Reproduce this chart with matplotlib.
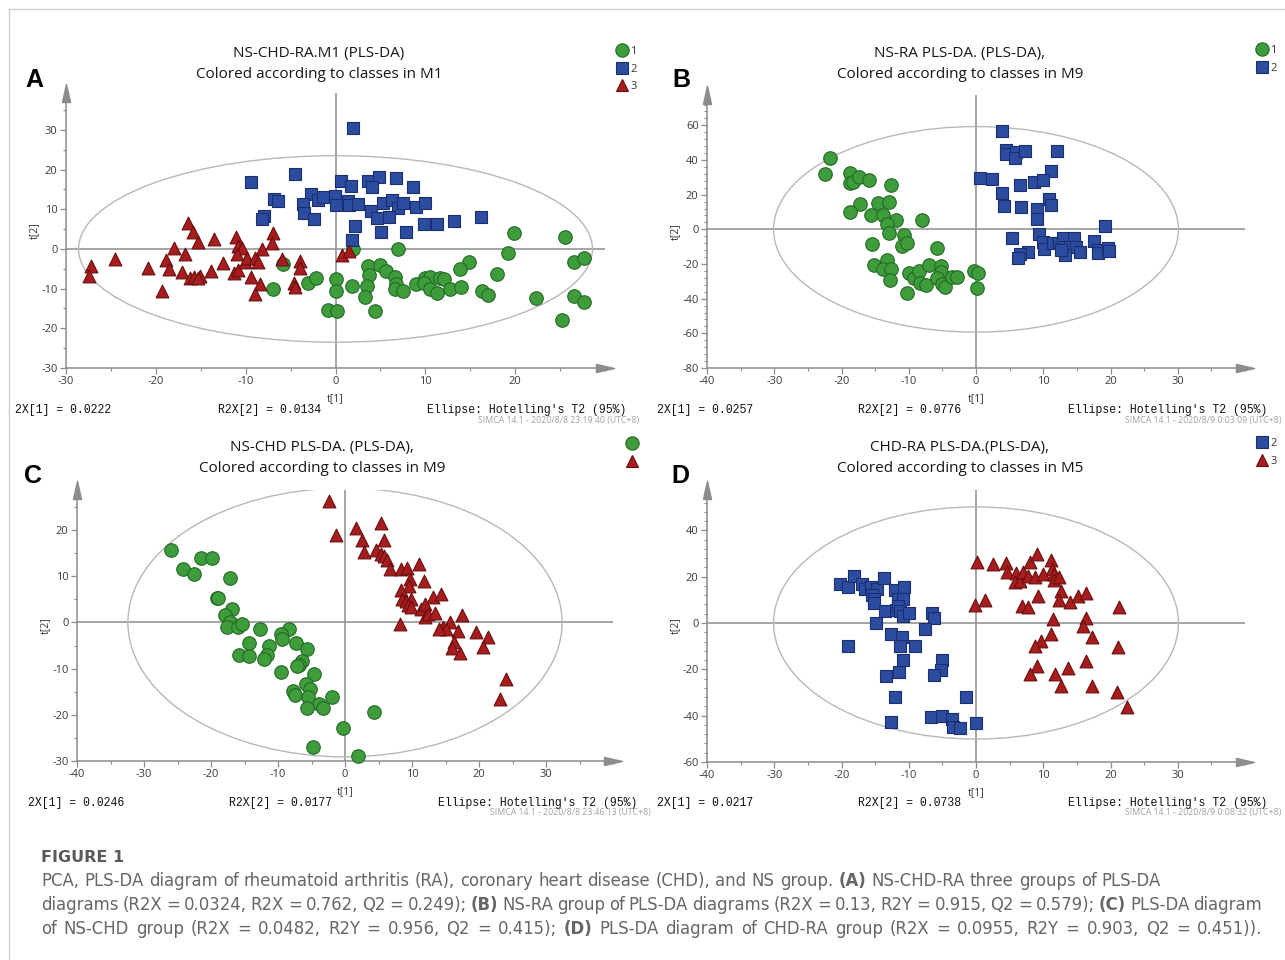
import numpy as np
import matplotlib
matplotlib.use("Agg")
import matplotlib.pyplot as plt
from matplotlib.patches import Ellipse
from matplotlib.lines import Line2D
from matplotlib.ticker import MultipleLocator

# ---- panel A : NS-CHD-RA, classes 1/2/3 ----
a1_x = [19.9, 25.5, 19.2, 26.5, 27.7, 14.9, 13.9, 18.0, 7.0, 1.9, -5.8, -7.0, -3.05, -2.2, 0.1, 0.0,
        1.8, 3.6, 3.7, 3.5, 3.3, 5.0, 5.6, 6.6, 6.7, 6.6, 7.5, -0.8, 0.2, 4.4, 9.0, 10.0, 10.5, 9.8,
        10.5, 11.3, 11.6, 12.1, 12.7, 14.0, 16.3, 17.0, 22.3, 26.5, 27.7, 25.2]
a1_y = [3.9, 2.9, -1.1, -3.2, -2.3, -3.2, -5.1, -6.2, 0.0, 0.0, -3.9, -10.2, -8.6, -7.4, -7.6, -10.6,
        -9.3, -4.4, -6.5, -9.3, -12.2, -4.0, -5.5, -7.0, -8.8, -10.2, -10.6, -15.4, -15.6, -15.6, -8.8,
        -7.4, -7.0, -8.5, -10.2, -11.2, -7.4, -7.6, -10.2, -9.5, -10.6, -11.6, -12.4, -11.8, -13.3, -18.0]
a2_x = [1.9, -9.4, -4.5, 0.6, 1.7, 3.6, 4.8, 4.1, 6.7, 8.6, -6.9, -6.4, -2.7, -2.0, -1.4, -0.1, -3.6,
        -3.5, -2.4, 0.0, 1.4, 1.45, 2.5, 3.95, 5.3, 6.3, 7.0, 7.5, 9.0, 10.0, 4.6, 5.9, -8.0, -8.2, 9.9,
        11.3, 13.2, 16.2, 2.2, 5.1, 7.8, 1.8]
a2_y = [30.5, 16.8, 19.0, 17.2, 15.9, 17.2, 18.2, 15.7, 18.0, 15.5, 12.5, 12.1, 13.8, 12.3, 13.0, 13.3,
        11.3, 9.1, 7.6, 11.1, 12.1, 11.1, 11.3, 9.6, 11.5, 12.3, 10.2, 11.5, 10.5, 11.7, 7.9, 8.1, 8.4,
        7.6, 6.3, 6.3, 7.0, 8.0, 5.7, 4.2, 4.2, 2.3]
a3_x = [-27.2, -27.4, -24.5, -20.9, -19.3, -18.9, -18.5, -18.0, -16.8, -17.1, -16.4, -15.9, -15.3,
        -16.2, -15.7, -15.1, -15.3, -13.9, -13.5, -12.5, -11.1, -10.9, -10.45, -11.0, -11.3, -10.8,
        -10.1, -9.8, -9.45, -9.0, -8.6, -8.4, -9.0, -8.2, -7.0, -7.05, -6.0, -4.0, -4.0, -4.6, -4.5,
        0.7, 1.45]
a3_y = [-4.4, -6.8, -2.6, -4.7, -10.6, -2.8, -5.1, 0.2, -1.3, -5.9, 6.5, 4.2, 1.8, -7.4, -7.0, -6.8,
        -7.4, -5.5, 2.5, -3.6, 3.1, 0.8, 0.2, -1.3, -6.1, -5.3, -3.2, -2.2, -7.0, -2.3, -3.4, -8.8,
        -11.4, 0.0, 3.9, 1.4, -2.6, -3.0, -4.9, -8.6, -9.7, -1.5, -0.5]

# ---- panel B : NS-RA, classes 1/2 ----
b1_x = [-21.7, -22.4, -18.7, -18.8, -18.3, -17.4, -15.9, -12.7, -17.2, -14.5, -12.9, -18.7, -15.6,
        -13.8, -11.9, -13.2, -8.0, -12.9, -10.7, -11.0, -10.2, -15.4, -5.8, -15.1, -13.3, -13.9, -12.6,
        -12.8, -10.0, -9.2, -8.5, -8.4, -7.4, -10.2, -7.0, -5.2, -5.2, -5.8, -5.1, -4.6, -3.5, -2.8,
        -0.3, 0.3, 0.2]
b1_y = [41.3, 32.1, 32.7, 26.5, 27.1, 30.4, 28.3, 25.6, 14.4, 15.0, 15.6, 9.8, 8.3, 8.3, 5.4, 2.9, 5.4,
        -2.3, -3.3, -9.6, -8.1, -8.3, -11.0, -20.6, -17.7, -22.9, -23.1, -29.2, -25.4, -28.3, -23.8,
        -31.2, -32.1, -36.9, -20.6, -21.2, -24.4, -28.3, -31.5, -33.1, -27.3, -27.3, -24.0, -25.4, -33.7]
b2_x = [3.9, 4.5, 4.5, 5.9, 5.8, 7.3, 12.1, 11.2, 0.6, 2.4, 8.6, 10.0, 6.5, 3.9, 4.1, 6.7, 9.1, 10.8,
        11.1, 9.1, 19.2, 5.4, 9.4, 10.0, 10.1, 11.5, 12.4, 13.0, 13.2, 14.5, 14.0, 14.9, 15.5, 13.2,
        12.7, 17.6, 18.1, 18.1, 19.6, 19.8, 7.7, 6.5, 6.3]
b2_y = [56.7, 45.8, 43.3, 44.8, 41.0, 45.4, 45.4, 33.8, 29.8, 29.0, 27.5, 28.5, 25.4, 20.8, 13.5, 13.1,
        11.7, 17.3, 14.0, 6.0, 1.9, -5.2, -2.7, -7.1, -11.5, -8.1, -8.1, -5.2, -10.0, -5.2, -10.4, -10.0,
        -12.9, -14.8, -11.9, -6.5, -11.9, -13.5, -11.0, -12.3, -12.9, -14.4, -16.7]

# ---- panel C : NS-CHD ----
c1_x = [-26.0, -21.5, -19.8, -24.2, -22.5, -17.1, -19.1, -18.96, -16.8, -17.9, -17.1, -17.6, -15.9,
        -15.3, -12.7, -8.4, -9.5, -9.4, -14.4, -7.3, -11.3, -5.65, -15.8, -14.4, -11.7, -12.1, -6.4,
        -6.8, -7.2, -9.5, -4.6, -5.8, -5.2, -7.7, -7.5, -5.5, -3.9, -3.3, -5.65, -2.0, 4.3, -0.25,
        -4.8, 1.9]
c1_y = [15.7, 14.0, 14.0, 11.5, 10.4, 9.7, 5.4, 5.2, 3.0, 1.7, 0.1, -0.9, -0.9, -0.4, -1.3, -1.3,
        -2.4, -3.5, -4.4, -4.4, -5.1, -5.8, -7.1, -7.2, -7.1, -7.8, -8.4, -9.1, -9.4, -10.8, -11.1,
        -13.4, -14.3, -14.9, -15.6, -16.1, -17.7, -18.6, -18.6, -16.2, -19.3, -22.9, -27.0, -28.9]
c3_x = [-2.4, -1.4, 1.6, 5.3, 2.6, 5.8, 2.9, 4.7, 5.3, 5.8, 6.2, 6.7, 8.3, 9.3, 11.0, 9.7, 11.8, 9.5,
        8.3, 8.5, 9.1, 9.9, 9.4, 9.8, 13.2, 14.3, 11.4, 12.0, 11.9, 12.4, 13.5, 8.2, 17.5, 15.6, 14.6,
        15.1, 14.1, 16.9, 19.6, 21.3, 16.2, 16.0, 17.1, 20.6, 24.0, 23.1]
c3_y = [26.3, 19.0, 20.5, 21.6, 17.8, 17.8, 15.3, 15.8, 14.9, 14.4, 13.5, 11.5, 11.5, 11.8, 12.6, 9.5,
        9.0, 7.9, 7.1, 5.1, 4.7, 5.1, 3.8, 3.4, 5.6, 6.1, 3.0, 3.9, 1.1, 1.9, 2.1, -0.4, 1.7, 0.1, -0.9,
        -1.4, -1.3, -1.9, -2.0, -3.2, -4.2, -5.5, -6.6, -5.3, -12.3, -16.6]

# ---- panel D : CHD-RA ----
d2_x = [-20.2, -19.1, -18.1, -17.0, -16.5, -15.6, -14.7, -13.7, -15.4, -15.1, -15.1, -12.1, -10.7,
        -13.5, -11.9, -11.6, -10.8, -11.6, -11.3, -10.8, -10.0, -6.55, -6.2, -14.8, -7.6, -12.6, -11.0,
        -11.3, -9.0, -19.0, -10.8, -5.1, -5.2, -11.4, -13.4, -6.2, -12.1, -1.5, -12.6, -6.7, -5.1,
        -3.5, -3.4, -2.4, 0.0]
d2_y = [16.8, 15.7, 20.1, 16.8, 14.7, 15.7, 14.7, 19.3, 12.2, 10.4, 8.5, 14.2, 15.7, 5.0, 5.6, 10.4,
        10.4, 7.5, 5.3, 3.2, 4.2, 4.2, 2.2, -0.1, -2.6, -4.7, -6.2, -10.1, -10.1, -10.1, -16.0, -16.0,
        -20.3, -21.3, -23.0, -22.4, -31.8, -31.8, -42.9, -40.7, -40.3, -41.4, -45.0, -45.3, -43.3]
d3_x = [0.2, 2.5, 4.5, 4.6, 5.9, 5.8, 6.6, 7.0, 7.8, 8.1, 9.0, 8.7, 10.0, 11.1, 11.3, 11.6, 11.6, 12.3,
        12.6, 12.3, 14.0, 15.1, 16.3, 9.2, 1.3, -0.1, 6.8, 7.8, 21.2, 11.4, 16.3, 15.9, 17.3, 11.1, 9.6,
        8.8, 21.1, 9.1, 8.1, 11.7, 13.7, 16.4, 12.7, 17.3, 20.9, 22.4]
d3_y = [26.2, 25.5, 25.9, 21.9, 21.4, 17.8, 18.3, 21.9, 20.4, 26.2, 29.8, 20.0, 21.2, 27.2, 23.3, 21.2,
        18.6, 20.0, 13.7, 9.9, 9.2, 11.8, 12.8, 11.5, 9.9, 7.8, 7.5, 6.8, 6.8, 1.7, 2.0, -1.2, -6.2,
        -4.7, -7.6, -9.8, -10.5, -18.7, -22.0, -22.0, -19.6, -16.3, -27.3, -27.1, -29.9, -36.4]

titles = [("NS-CHD-RA.M1 (PLS-DA)", "Colored according to classes in M1"),
          ("NS-RA PLS-DA. (PLS-DA),", "Colored according to classes in M9"),
          ("NS-CHD PLS-DA. (PLS-DA),", "Colored according to classes in M9"),
          ("CHD-RA PLS-DA.(PLS-DA),", "Colored according to classes in M5")]
r2x1 = ["0.0222", "0.0257", "0.0246", "0.0217"]
r2x2 = ["0.0134", "0.0776", "0.0177", "0.0738"]
stamps = ["SIMCA 14.1 - 2020/8/8 23:19:40 (UTC+8)", "SIMCA 14.1 - 2020/8/9 0:03:09 (UTC+8)",
          "SIMCA 14.1 - 2020/8/8 23:46:13 (UTC+8)", "SIMCA 14.1 - 2020/8/9 0:08:32 (UTC+8)"]
letters = ["A", "B", "C", "D"]

W, H = 1285, 960
GRID = "#8c8c8c"
STYLE = {1: ("o", "#3e9c3b", "#236a26", 95),
         2: ("s", "#2c4ca0", "#1a2f70", 80),
         3: ("^", "#a71d1d", "#6a0e0e", 85)}

plt.rcParams["font.family"] = ["Open Sans", "DejaVu Sans"]
plt.rcParams["axes.unicode_minus"] = False

fig = plt.figure(figsize=(W / 100, H / 100), dpi=100)
fig.patch.set_facecolor("white")


def px(x, y):
    return x / W, 1 - y / H


def make_axes(left, right, top, bottom):
    return fig.add_axes([left / W, 1 - bottom / H, (right - left) / W, (bottom - top) / H])


arrow = [(-1.0, -0.45), (1.0, 0.0), (-1.0, 0.45), (-1.0, -0.45)]
arrow_up = [(-0.45, -1.0), (0.0, 1.0), (0.45, -1.0), (-0.45, -1.0)]


def panel(ax, groups, xlim, ylim, ell, ymaj, ymin, legend_pos, labels=True):
    ax.set_xlim(*xlim)
    ax.set_ylim(*ylim)
    ax.add_patch(Ellipse((0, 0), 2 * ell[0], 2 * ell[1], fill=False, ec="#b8b8b8", lw=1.0, zorder=1))
    ax.axhline(0, color=GRID, lw=1.1, zorder=0.5)
    ax.axvline(0, color=GRID, lw=1.1, zorder=0.5)
    for cls, xs, ys in groups:
        m, fc, ec, s = STYLE[cls]
        ax.scatter(xs, ys, marker=m, s=s, c=fc, edgecolors=ec, linewidths=0.8, zorder=3, clip_on=False)
    for side in ["top", "right"]:
        ax.spines[side].set_visible(False)
    for side in ["left", "bottom"]:
        ax.spines[side].set_color(GRID)
        ax.spines[side].set_linewidth(1.1)
    ax.plot(1, 0, marker=arrow, ms=13, color=GRID, transform=ax.transAxes, clip_on=False)
    ax.plot(0, 1, marker=arrow_up, ms=13, color=GRID, transform=ax.transAxes, clip_on=False)
    ax.xaxis.set_minor_locator(MultipleLocator(5))
    ax.yaxis.set_minor_locator(MultipleLocator(ymin))
    ax.set_xticks([t for t in np.arange(xlim[0], xlim[1], 10) if t < xlim[1] - 6])
    ax.set_yticks([t for t in np.arange(ylim[0], ylim[1], ymaj) if t < ylim[1] - 5])
    ax.tick_params(which="major", length=4, width=0.9, color=GRID, labelsize=8, labelcolor="#3a3a3a", pad=2)
    ax.tick_params(which="minor", length=2.5, width=0.8, color=GRID)
    ax.set_xlabel("t[1]", fontsize=7.5, color="#333333")
    ax.set_ylabel("t[2]", fontsize=7.5, color="#333333")
    bb = ax.get_position()
    ax.xaxis.set_label_coords(-xlim[0] / (xlim[1] - xlim[0]), -25 / (bb.height * H))
    ax.yaxis.set_label_coords(-26 / (bb.width * W), 0.5)

    handles = []
    names = []
    for cls, xs, ys in groups:
        m, fc, ec, s = STYLE[cls]
        size = {"o": 9.6, "s": 8.2, "^": 9.0}[m]
        handles.append(Line2D([], [], ls="", marker=m, ms=size, mfc=fc, mec=ec, mew=0.8))
        names.append(str(cls) if labels else "")
    ax.legend(handles, names, loc="upper left", bbox_to_anchor=px(*legend_pos), bbox_transform=fig.transFigure,
              frameon=False, fontsize=8, handlelength=0.9, handletextpad=0.3, labelspacing=0.6,
              borderpad=0, borderaxespad=0, labelcolor="#333333")


axA = make_axes(66, 605, 93, 368)
panel(axA, [(1, a1_x, a1_y), (2, a2_x, a2_y), (3, a3_x, a3_y)], (-30, 30), (-30, 39.3), (28.6, 23.5),
      10, 5, (617, 46))
axB = make_axes(707, 1245, 95, 368)
panel(axB, [(1, b1_x, b1_y), (2, b2_x, b2_y)], (-40, 40), (-80, 77.5), (30.1, 59.3),
      20, 4, (1257, 45))
axC = make_axes(77, 613, 490, 761)
panel(axC, [(1, c1_x, c1_y), (3, c3_x, c3_y)], (-40, 40), (-30, 28.7), (32.4, 29.1),
      10, 5, (627, 439), labels=False)
axD = make_axes(707, 1245, 490, 762)
panel(axD, [(2, d2_x, d2_y), (3, d3_x, d3_y)], (-40, 40), (-60, 57.4), (30.1, 50.1),
      20, 4, (1257, 438))

# titles, panel letters and SIMCA footers
title_pos = [(319, 54), (960, 54), (322, 447), (960, 447)]
letter_pos = [(34, 80), (681, 80), (33, 476), (680, 476)]
foot_y = [410, 410, 803, 803]
foot_x = [(15, 218, 427, 478), (657, 858, 1068, 1125), (28, 229, 438, 490), (657, 858, 1068, 1125)]
for i in range(4):
    tx, ty = title_pos[i]
    fig.text(*px(tx, ty), titles[i][0], ha="center", va="center", fontsize=11, color="#151515")
    fig.text(*px(tx, ty + 21), titles[i][1], ha="center", va="center", fontsize=11, color="#151515")
    fig.text(*px(*letter_pos[i]), letters[i], ha="center", va="center", fontsize=18, fontweight="bold",
             family="Liberation Sans", color="black")
    fx = foot_x[i]
    fy = foot_y[i]
    mono = dict(ha="left", va="center", fontsize=8.3, family="Liberation Mono", color="#111111")
    fig.text(*px(fx[0], fy), "2X[1] = " + r2x1[i], **mono)
    fig.text(*px(fx[1], fy), "R2X[2] = " + r2x2[i], **mono)
    fig.text(*px(fx[2], fy), "Ellipse: Hotelling's T2 (95%)", **mono)
    fig.text(*px(fx[3], fy + 10), stamps[i], ha="left", va="center", fontsize=6.3, color="#a0a0a0")

# outer frame
fig.add_artist(Line2D([9 / W, 1], [1 - 9 / H, 1 - 9 / H], color="#d0d0d0", lw=1.0))
fig.add_artist(Line2D([9 / W, 9 / W], [0, 1 - 9 / H], color="#d0d0d0", lw=1.0))

# caption
CAP_FONT = "DejaVu Sans"
fig.text(*px(41, 857), "FIGURE 1", ha="left", va="center", fontsize=11.5, fontweight="bold",
         family=CAP_FONT, color="#5a5a5a")
caption = [
    [("PCA, PLS-DA diagram of rheumatoid arthritis (RA), coronary heart disease (CHD), and NS group.", False),
     ("(A)", True), ("NS-CHD-RA three groups of PLS-DA", False)],
    [("diagrams (R2X = 0.0324, R2X = 0.762, Q2 = 0.249);", False), ("(B)", True),
     ("NS-RA group of PLS-DA diagrams (R2X = 0.13, R2Y = 0.915, Q2 = 0.579);", False), ("(C)", True),
     ("PLS-DA diagram", False)],
    [("of NS-CHD group (R2X = 0.0482, R2Y = 0.956, Q2 = 0.415);", False), ("(D)", True),
     ("PLS-DA diagram of CHD-RA group (R2X = 0.0955, R2Y = 0.903, Q2 = 0.451)).", False)],
]
justify = [False, True, True]
renderer = fig.canvas.get_renderer()


def text_width(s, size, bold=False):
    t = fig.text(0, 0, s, fontsize=size, family=CAP_FONT, fontweight="bold" if bold else "normal")
    w = t.get_window_extent(renderer).width
    t.remove()
    return w


def split_words(line):
    return [(w, b) for seg, b in line for w in seg.split()]


# fit the font so the tightest line (the second one) spans the text block with slightly narrow spaces
probe = 12.0
space_probe = text_width("a a", probe) - text_width("aa", probe)
words1 = split_words(caption[1])
nat1 = sum(text_width(w, probe, b) for w, b in words1) + (len(words1) - 1) * 0.75 * space_probe
cap_size = probe * (1262 - 41) / nat1
space = space_probe * cap_size / probe

for li, line in enumerate(caption):
    words = split_words(line)
    widths = [text_width(w, cap_size, b) for w, b in words]
    gap = (1262 - 41 - sum(widths)) / (len(words) - 1) if justify[li] else space
    x = 41
    y = 881 + 24 * li
    for (w, b), wd in zip(words, widths):
        fig.text(*px(x, y), w, ha="left", va="center", fontsize=cap_size, family=CAP_FONT, color="#666666",
                 fontweight="bold" if b else "normal")
        x += wd + gap

fig.savefig("out.png", dpi=100, facecolor="white")
